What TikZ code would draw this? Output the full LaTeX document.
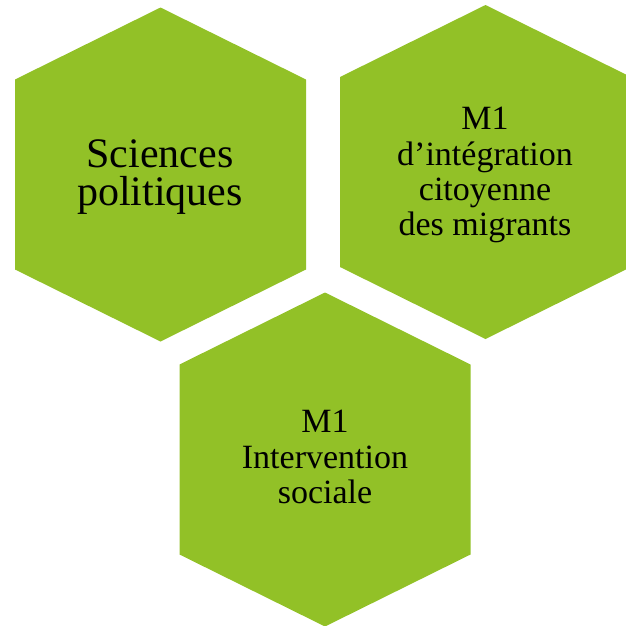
\documentclass[tikz,border=0pt]{standalone}
\usepackage{fontspec}
\setmainfont{Liberation Serif}
\usetikzlibrary{calc}
\definecolor{hexgreen}{RGB}{146,193,39}
\tikzset{
  hexfill/.style={fill=hexgreen, draw=none},
  hextext/.style={align=center, inner sep=0pt, text=black},
  bigtext/.style={hextext, font=\fontsize{31.5}{29}\selectfont},
  smalltext/.style={hextext, font=\fontsize{25.5}{26.3}\selectfont}
}
% hexagon with pointy top and bottom around a named coordinate
\newcommand{\hexaround}[1]{%
  \fill[hexfill] ($(#1)+(0,-167)$) -- ($(#1)+(145.5,-95)$) -- ($(#1)+(145.5,95)$)
    -- ($(#1)+(0,167)$) -- ($(#1)+(-145.5,95)$) -- ($(#1)+(-145.5,-95)$) -- cycle;}
\begin{document}
\begin{tikzpicture}[x=0.75pt, y=-0.75pt]
\useasboundingbox (0,0) rectangle (626,626);
% centres of the three hexagons
\coordinate (c1) at (160.5,174.5);
\coordinate (c2) at (485.5,172);
\coordinate (c3) at (325,459.5);
\hexaround{c1}
\hexaround{c2}
\hexaround{c3}
% texts
\node [bigtext] (sp) at (160,177) {Sciences\\politiques};
\node [smalltext] (m1a) at (485,175) {M1\\d’intégration\\citoyenne\\des migrants};
\node [smalltext] (m1b) at (325,457) {M1\\Intervention\\sociale};
\end{tikzpicture}
\end{document}
